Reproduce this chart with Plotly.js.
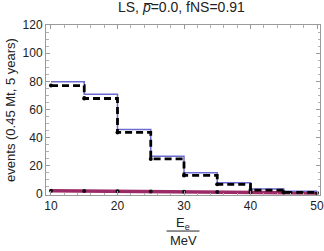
<!DOCTYPE html>
<html><head><meta charset="utf-8">
<script src="https://cdn.plot.ly/plotly-3.0.1.min.js"></script>
<style>body{margin:0;padding:0;background:#fff}#chart{width:324px;height:251px}</style>
</head><body><div id="chart"></div>
<script>
// bin edges (MeV)
const binEdges = [10, 15, 20, 25, 30, 35, 40, 45, 50];
// total events per bin (blue solid)
const totalEvents = [79.7, 70.8, 45.8, 26.9, 15.1, 8.0, 3.6, 1.9];
// signal events per bin (black dashed)
const dashedEvents = [77.0, 67.8, 43.7, 24.9, 13.2, 6.9, 2.8, 1.2];
// background points (purple)
const bgX = [10, 15, 20, 25, 30, 35, 40, 45, 50];
const bgY = [2.4, 2.2, 2.0, 1.8, 1.6, 1.4, 1.2, 1.0, 0.8];

const stepY = arr => arr.concat([arr[arr.length - 1]]);

const traces = [
  {x: bgX, y: bgY, mode: 'lines', line: {color: '#9c2a66', width: 3.5}, hoverinfo: 'skip'},
  {x: bgX, y: bgY, mode: 'markers', marker: {color: '#111', size: 4}, hoverinfo: 'skip'},
  {x: binEdges, y: stepY(totalEvents), mode: 'lines', line: {color: '#6b6bd0', width: 1.5, shape: 'hv'}},
  {x: binEdges, y: stepY(dashedEvents), mode: 'lines', line: {color: '#000', width: 2.8, shape: 'hv', dash: '7px,4px'}},
  {x: binEdges.slice(0, -1), y: dashedEvents, mode: 'markers', marker: {color: '#000', size: 4}}
];

const axisCommon = {
  showgrid: false, zeroline: false, showline: true, linecolor: '#9a9a9a', linewidth: 1,
  mirror: 'allticks', ticks: 'inside', ticklen: 4, tickcolor: '#9a9a9a', tickwidth: 1,
  ticklabeloverflow: 'allow',
  tickfont: {family: 'Liberation Sans, Arial, sans-serif', size: 12, color: '#222'}
};

const layout = {
  width: 324, height: 251,
  margin: {l: 46, r: 4, t: 25, b: 56},
  paper_bgcolor: '#fff', plot_bgcolor: '#fff',
  showlegend: false,
  title: {text: 'LS, <i>p̅</i>=0.0, fNS=0.91', x: 0.56, xanchor: 'center', y: 0.99, yanchor: 'top',
          font: {family: 'Liberation Sans, Arial, sans-serif', size: 14, color: '#222'}},
  xaxis: Object.assign({}, axisCommon, {range: [9.25, 50.45], tickvals: [10, 20, 30, 40, 50],
    minor: {tick0: 10, dtick: 2, ticks: 'inside', ticklen: 2.5, tickcolor: '#b0b0b0', showgrid: false}}),
  yaxis: Object.assign({}, axisCommon, {range: [-0.7, 120], tickvals: [0, 20, 40, 60, 80, 100, 120],
    minor: {tick0: 0, dtick: 5, ticks: 'inside', ticklen: 2.5, tickcolor: '#b0b0b0', showgrid: false},
    title: {text: 'events (0.45 Mt, 5 years)', standoff: 4,
            font: {family: 'Liberation Sans, Arial, sans-serif', size: 13, color: '#222'}}}),
  annotations: [
    {text: 'E<sub>e</sub>', xref: 'paper', yref: 'paper', x: 0.5, y: -0.165, showarrow: false,
     xanchor: 'center', yanchor: 'middle', font: {family: 'Liberation Sans, Arial, sans-serif', size: 13, color: '#222'}},
    {text: 'MeV', xref: 'paper', yref: 'paper', x: 0.5, y: -0.27, showarrow: false,
     xanchor: 'center', yanchor: 'middle', font: {family: 'Liberation Sans, Arial, sans-serif', size: 13, color: '#222'}}
  ],
  shapes: [
    {type: 'line', xref: 'paper', yref: 'paper', x0: 0.44, x1: 0.56, y0: -0.212, y1: -0.212,
     line: {color: '#222', width: 1}}
  ]
};

Plotly.newPlot('chart', traces, layout, {displayModeBar: false, staticPlot: true});
</script></body></html>
